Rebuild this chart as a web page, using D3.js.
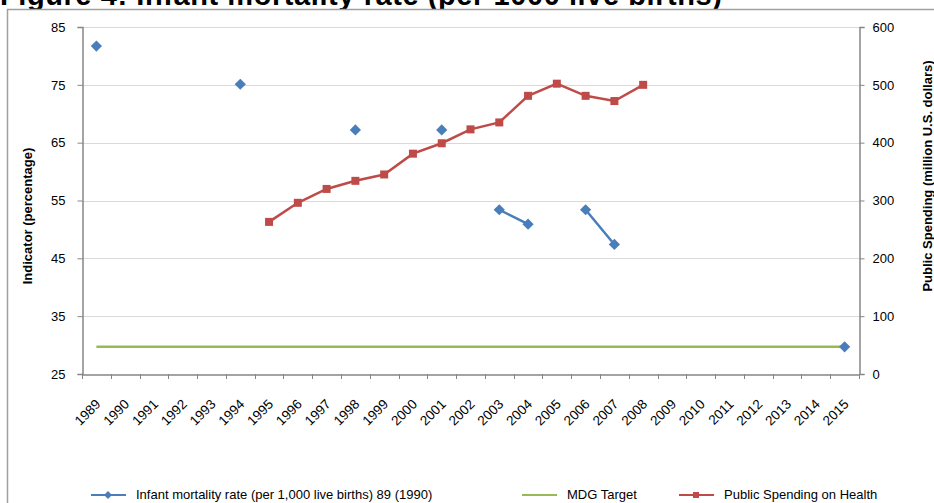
<!DOCTYPE html>
<html>
<head>
    <title>Infant mortality rate</title>
    <script src="https://d3js.org/d3.v7.min.js"></script>
    <style>
      body { margin: 0; background: #fff; }
      text { font-family: "Liberation Sans", Arial, sans-serif; fill: #000; }
    </style>
</head>
<body>
  <div id="vis"></div>
<script>
  // data
  var years = ["1989","1990","1991","1992","1993","1994","1995","1996","1997","1998","1999","2000","2001","2002",
               "2003","2004","2005","2006","2007","2008","2009","2010","2011","2012","2013","2014","2015"]
  var infantMortality = [81.7, null, null, null, null, 75.1, null, null, null, 67.2, null, null, 67.2, null,
                         53.4, 50.9, null, 53.4, 47.4, null, null, null, null, null, null, null, 29.7]
  var mdgTarget = [29.7, 29.7, 29.7, 29.7, 29.7, 29.7, 29.7, 29.7, 29.7, 29.7, 29.7, 29.7, 29.7, 29.7,
                   29.7, 29.7, 29.7, 29.7, 29.7, 29.7, 29.7, 29.7, 29.7, 29.7, 29.7, 29.7, 29.7]
  var healthSpending = [null, null, null, null, null, null, 263, 296, 320, 334, 345, 381, 399, 423,
                        435, 481, 502, 481, 472, 500, null, null, null, null, null, null, null]
  var leftTicks = [25, 35, 45, 55, 65, 75, 85]
  var rightTicks = [0, 100, 200, 300, 400, 500, 600]
  var legendLabels = ["Infant mortality rate (per 1,000 live births) 89 (1990)", "MDG Target", "Public Spending on Health"]

  var width = 934, height = 503
  var plotLeft = 82, plotRight = 859, plotTop = 27, plotBottom = 374
  var blue = "#4a7ebb", green = "#98b954", red = "#be4b48", axisColor = "#868686"

  var svg = d3.select("#vis").append("svg")
      .attr("width", width)
      .attr("height", height)

  // title, mostly cut off at the top
  svg.append("text")
      .attr("x", 0).attr("y", 5)
      .attr("textLength", 722)
      .style("font-size", "29px").style("font-weight", "bold")
      .text("Figure 4: Infant mortality rate (per 1000 live births)")

  // chart area border
  svg.append("rect")
      .attr("x", 7.5).attr("y", 9.5)
      .attr("width", 940).attr("height", 520)
      .attr("fill", "#fff").attr("stroke", "#a0a0a0").attr("stroke-width", 1.5)

  var x = d3.scaleBand().domain(years).range([plotLeft, plotRight])
  var yLeft = d3.scaleLinear().domain([25, 85]).range([plotBottom, plotTop])
  var yRight = d3.scaleLinear().domain([0, 600]).range([plotBottom, plotTop])
  function cx(i) { return x(years[i]) + x.bandwidth() / 2 }

  // gridlines
  svg.append("g").selectAll("line").data(leftTicks.slice(1)).enter().append("line")
      .attr("x1", plotLeft).attr("x2", plotRight)
      .attr("y1", function (d) { return Math.round(yLeft(d)) + 0.5 })
      .attr("y2", function (d) { return Math.round(yLeft(d)) + 0.5 })
      .attr("stroke", "#d9d9d9")

  // axes
  var gl = svg.append("g").attr("transform", "translate(" + (plotLeft + 0.5) + ",0)")
      .call(d3.axisLeft(yLeft).tickValues(leftTicks).tickSize(5).tickPadding(12))
  var gr = svg.append("g").attr("transform", "translate(" + (plotRight + 0.5) + ",0)")
      .call(d3.axisRight(yRight).tickValues(rightTicks).tickSize(5).tickPadding(8))
  var gb = svg.append("g").attr("transform", "translate(0," + (plotBottom + 0.5) + ")")
      .call(d3.axisBottom(x).tickSize(0).tickFormat(""))
  ;[gl, gr, gb].forEach(function (g) {
    g.select(".domain").attr("stroke", axisColor).attr("stroke-width", 1.5)
    g.selectAll(".tick line").attr("stroke", axisColor)
    g.selectAll("text").style("font-size", "13px").style("font-family", "Liberation Sans, Arial, sans-serif")
  })

  // category boundary ticks on the x axis
  svg.append("g").selectAll("line").data(years.concat(["end"])).enter().append("line")
      .attr("x1", function (d, i) { return Math.round(plotLeft + i * x.bandwidth()) + 0.5 })
      .attr("x2", function (d, i) { return Math.round(plotLeft + i * x.bandwidth()) + 0.5 })
      .attr("y1", plotBottom).attr("y2", plotBottom + 5)
      .attr("stroke", axisColor)

  // rotated year labels
  svg.append("g").selectAll("text").data(years).enter().append("text")
      .attr("transform", function (d, i) { return "translate(" + (cx(i) + 5) + "," + (plotBottom + 31) + ") rotate(-45)" })
      .attr("text-anchor", "end")
      .style("font-size", "13.5px")
      .text(function (d) { return d })

  // axis titles
  svg.append("text")
      .attr("transform", "translate(32,216) rotate(-90)")
      .attr("text-anchor", "middle")
      .style("font-size", "13px").style("font-weight", "bold")
      .text("Indicator (percentage)")
  svg.append("text")
      .attr("transform", "translate(932,176) rotate(-90)")
      .attr("text-anchor", "middle")
      .style("font-size", "13px").style("font-weight", "bold")
      .text("Public Spending (million U.S. dollars)")

  // MDG target line
  svg.append("path")
      .datum(mdgTarget)
      .attr("fill", "none").attr("stroke", green).attr("stroke-width", 2.5)
      .attr("d", d3.line().x(function (d, i) { return cx(i) }).y(function (d) { return yLeft(d) }))

  // spending line
  svg.append("path")
      .datum(healthSpending)
      .attr("fill", "none").attr("stroke", red).attr("stroke-width", 2.5)
      .attr("d", d3.line().defined(function (d) { return d != null })
          .x(function (d, i) { return cx(i) }).y(function (d) { return yRight(d) }))
  svg.append("g").selectAll("rect").data(healthSpending.map(function (d, i) { return {v: d, i: i} })
        .filter(function (d) { return d.v != null }))
      .enter().append("rect")
      .attr("x", function (d) { return cx(d.i) - 4 }).attr("y", function (d) { return yRight(d.v) - 4 })
      .attr("width", 8).attr("height", 8)
      .attr("fill", red)

  // infant mortality: segments only between neighbouring years
  svg.append("path")
      .datum(infantMortality)
      .attr("fill", "none").attr("stroke", blue).attr("stroke-width", 2.5)
      .attr("d", d3.line().defined(function (d) { return d != null })
          .x(function (d, i) { return cx(i) }).y(function (d) { return yLeft(d) }))
  var diamond = d3.symbol().type(d3.symbolDiamond2).size(80)
  svg.append("g").selectAll("path").data(infantMortality.map(function (d, i) { return {v: d, i: i} })
        .filter(function (d) { return d.v != null }))
      .enter().append("path")
      .attr("transform", function (d) { return "translate(" + cx(d.i) + "," + yLeft(d.v) + ")" })
      .attr("d", diamond)
      .attr("fill", blue)

  // legend
  var ly = 495
  var legendX = [91, 522, 679]
  var legendColors = [blue, green, red]
  var lg = svg.append("g")
  legendLabels.forEach(function (label, i) {
    lg.append("line")
        .attr("x1", legendX[i]).attr("x2", legendX[i] + 35)
        .attr("y1", ly).attr("y2", ly)
        .attr("stroke", legendColors[i]).attr("stroke-width", 2)
    if (i == 0) {
      lg.append("path").attr("transform", "translate(" + (legendX[i] + 17) + "," + ly + ")")
          .attr("d", d3.symbol().type(d3.symbolDiamond2).size(40)).attr("fill", blue)
    }
    if (i == 2) {
      lg.append("rect").attr("x", legendX[i] + 14).attr("y", ly - 3).attr("width", 6).attr("height", 6).attr("fill", red)
    }
    lg.append("text")
        .attr("x", legendX[i] + 45).attr("y", ly + 4)
        .style("font-size", "13px")
        .text(label)
  })
</script>
</body>
</html>
